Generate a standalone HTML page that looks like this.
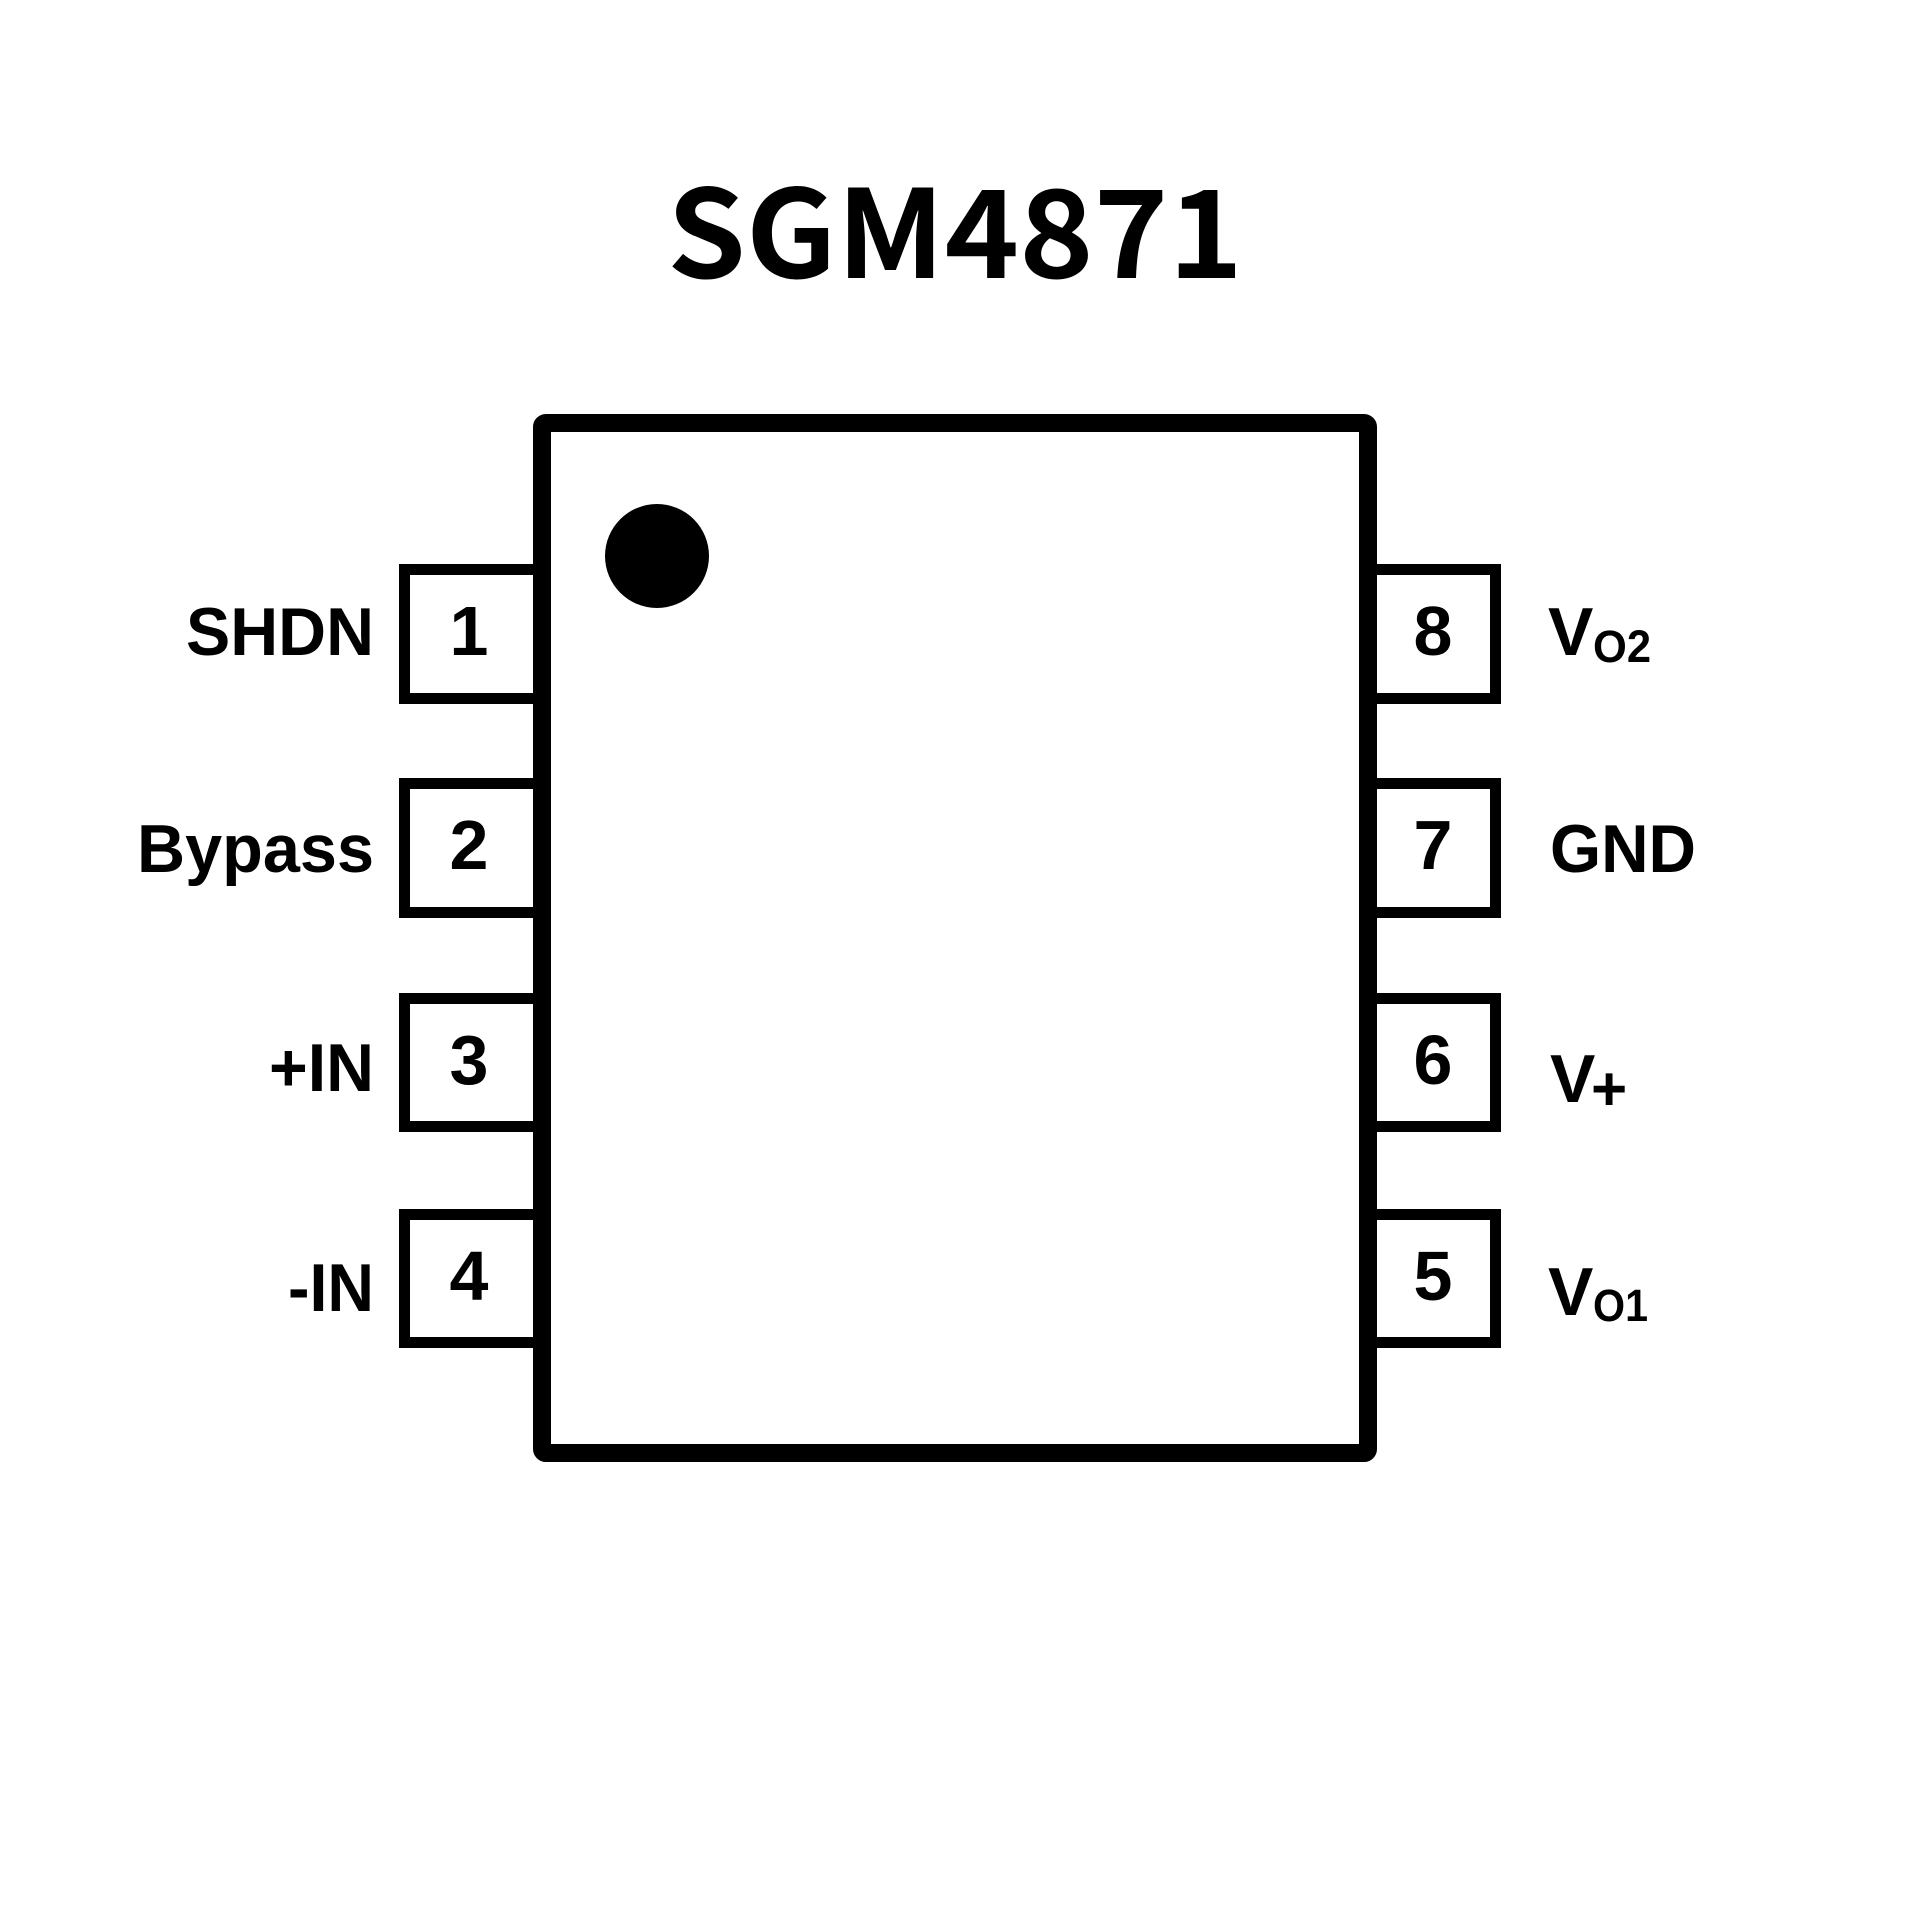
<!DOCTYPE html>
<html><head><meta charset="utf-8"><style>
html,body{margin:0;padding:0;background:#fff;}
svg{display:block;}
text{font-family:"Liberation Sans",Arial,sans-serif;font-weight:bold;fill:#000;}
</style></head><body>
<svg width="1920" height="1920" viewBox="0 0 1920 1920" xmlns="http://www.w3.org/2000/svg">
<text x="667" y="278" font-size="122" textLength="576" lengthAdjust="spacingAndGlyphs" style="font-family:'Noto Sans CJK SC','DejaVu Sans',sans-serif;font-weight:bold">SGM4871</text>
<g transform="translate(-5,-6)">
<g fill="none" stroke="#000" stroke-width="11">
<rect x="409.5" y="575.5" width="137.5" height="129"/>
<rect x="409.5" y="789.5" width="137.5" height="129"/>
<rect x="409.5" y="1004.5" width="137.5" height="128"/>
<rect x="409.5" y="1220.5" width="137.5" height="128"/>
<rect x="1367" y="575.5" width="133.5" height="129"/>
<rect x="1367" y="789.5" width="133.5" height="129"/>
<rect x="1367" y="1004.5" width="133.5" height="128"/>
<rect x="1367" y="1220.5" width="133.5" height="128"/>
</g>
<rect x="547" y="429" width="826" height="1030" rx="4" fill="#fff" stroke="#000" stroke-width="18"/>
<circle cx="662" cy="562" r="52" fill="#000"/>
<g font-size="70" text-anchor="middle">
<text x="474" y="661">1</text>
<text x="474" y="875">2</text>
<text x="474" y="1090">3</text>
<text x="474" y="1306">4</text>
<text x="1438" y="661">8</text>
<text x="1438" y="875">7</text>
<text x="1438" y="1090">6</text>
<text x="1438" y="1306">5</text>
</g>
<g font-size="68">
<text x="191" y="661" textLength="188" lengthAdjust="spacingAndGlyphs">SHDN</text>
<text x="142" y="878" textLength="237" lengthAdjust="spacingAndGlyphs">Bypass</text>
<text x="274" y="1097" textLength="105" lengthAdjust="spacingAndGlyphs">+IN</text>
<text x="293" y="1317" textLength="86" lengthAdjust="spacingAndGlyphs">-IN</text>
<text x="1555" y="878" textLength="146" lengthAdjust="spacingAndGlyphs">GND</text>
<text x="1553" y="661">V</text>
<text x="1553" y="1321">V</text>
<text x="1555" y="1108">V</text>
</g>
<g font-size="45">
<text x="1598" y="668" textLength="58" lengthAdjust="spacingAndGlyphs">O2</text>
<text x="1598" y="1327" textLength="55" lengthAdjust="spacingAndGlyphs">O1</text>
</g>
<text x="1596" y="1116" font-size="62">+</text>
</g>
</svg>
</body></html>
